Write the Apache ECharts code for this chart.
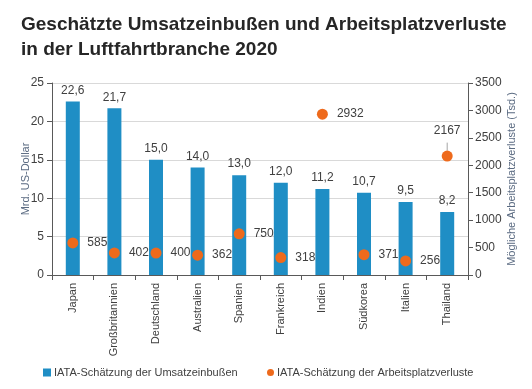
<!DOCTYPE html>
<html><head><meta charset="utf-8">
<script src="https://cdn.jsdelivr.net/npm/echarts@6/dist/echarts.min.js"></script>
<style>html,body{margin:0;padding:0;background:#fff}#c{width:532px;height:389px}</style>
</head><body><div id="c"></div>
<script>
const categories = ["Japan","Großbritannien","Deutschland","Australien","Spanien","Frankreich","Indien","Südkorea","Italien","Thailand"];
const revenueLoss = [22.6,21.7,15.0,14.0,13.0,12.0,11.2,10.7,9.5,8.2];
const jobLoss = [585,402,400,362,750,318,2932,371,256,2167];
const leftTicks = {min:0,max:25,interval:5};
const rightTicks = {min:0,max:3500,interval:500};

const FONT = "Liberation Sans, Arial, sans-serif";
const S1 = 'IATA-Schätzung der Umsatzeinbußen';
const S2 = 'IATA-Schätzung der Arbeitsplatzverluste';
const chart = echarts.init(document.getElementById('c'));
chart.setOption({
  animation:false,
  textStyle:{fontFamily:FONT},
  title:{text:"Geschätzte Umsatzeinbußen und Arbeitsplatzverluste\nin der Luftfahrtbranche 2020",left:16,top:7,
    textStyle:{fontSize:19,fontWeight:'bold',color:'#262626',lineHeight:25,fontFamily:FONT}},
  grid:{left:52,right:64,top:83,bottom:114},
  legend:[
    {left:38,top:362,itemWidth:8,itemHeight:8,itemGap:4,
     textStyle:{fontSize:11,color:'#404040',fontFamily:FONT,padding:[0,0,0,-2]},
     data:[{name:S1,icon:'rect'}]},
    {left:262,top:362,itemWidth:7,itemHeight:7,
     textStyle:{fontSize:11,color:'#404040',fontFamily:FONT,padding:[0,0,0,-2]},
     data:[{name:S2,icon:'circle'}]}
  ],
  xAxis:{type:'category',data:categories,
    axisLine:{lineStyle:{color:'#595959'}},
    axisTick:{show:true,alignWithLabel:false,length:5,lineStyle:{color:'#595959'}},
    axisLabel:{rotate:90,interval:0,fontSize:11,color:'#404040',margin:8}},
  yAxis:[
    {type:'value',min:leftTicks.min,max:leftTicks.max,interval:leftTicks.interval,
     name:'Mrd. US-Dollar',nameLocation:'middle',nameGap:21,nameRotate:90,nameMoveOverlap:false,
     nameTextStyle:{fontSize:11,color:'#5b6b82'},
     axisLine:{show:true,lineStyle:{color:'#595959'}},axisTick:{show:true,length:5,lineStyle:{color:'#595959'}},
     axisLabel:{fontSize:12,color:'#404040',margin:8},
     splitLine:{lineStyle:{color:'#d9d9d9'}}},
    {type:'value',min:rightTicks.min,max:rightTicks.max,interval:rightTicks.interval,
     name:'Mögliche Arbeitsplatzverluste (Tsd.)',nameLocation:'middle',nameGap:38,nameRotate:90,nameMoveOverlap:false,
     nameTextStyle:{fontSize:11,color:'#5b6b82'},
     axisLine:{show:true,lineStyle:{color:'#595959'}},axisTick:{show:true,length:5,lineStyle:{color:'#595959'}},
     axisLabel:{fontSize:12,color:'#404040',margin:7,formatter:v=>String(v)},
     splitLine:{show:false}}
  ],
  series:[
    {name:S1,type:'bar',data:revenueLoss,barWidth:14,
     itemStyle:{color:'#1f8ec5'},
     label:{show:true,position:'top',fontSize:12,color:'#404040',distance:5,
       formatter:p=>p.value.toFixed(1).replace('.',',')}},
    {name:S2,type:'scatter',yAxisIndex:1,data:jobLoss.map((v,i)=>{
        const o={value:v};
        if(i===jobLoss.length-1){o.label={position:'top',distance:14};o.labelLine={show:true,length2:0,lineStyle:{color:'#a6a6a6',width:1}};}
        return o;}),
     symbolSize:11,itemStyle:{color:'#ee6a1c',opacity:1},
     label:{show:true,position:'right',distance:9,fontSize:12,color:'#404040',textBorderWidth:0}}
  ]
});
</script></body></html>
